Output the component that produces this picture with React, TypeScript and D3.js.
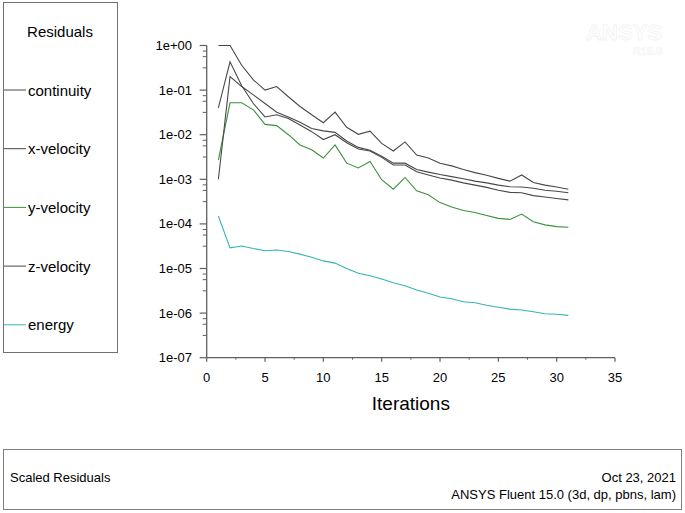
import React from "react";
import * as d3 from "d3";

const iterations = d3.range(1, 32);
const continuity = [1.0, 1.0, 0.36, 0.17, 0.1, 0.12, 0.071, 0.043, 0.028, 0.0186, 0.032, 0.0147, 0.0102, 0.012, 0.0064, 0.0043, 0.0069, 0.0035, 0.003, 0.0023, 0.002, 0.00166, 0.00141, 0.00123, 0.00105, 0.00091, 0.00125, 0.00085, 0.00074, 0.00067, 0.0006];
const xVelocity = [0.04, 0.43, 0.125, 0.05, 0.025, 0.028, 0.023, 0.0165, 0.0117, 0.0078, 0.01, 0.0066, 0.0048, 0.0043, 0.0031, 0.0021, 0.0021, 0.00148, 0.00125, 0.00107, 0.00096, 0.00083, 0.00074, 0.00066, 0.00057, 0.00051, 0.0005, 0.00043, 0.0004, 0.00037, 0.000345];
const yVelocity = [0.0027, 0.052, 0.052, 0.036, 0.017, 0.016, 0.01, 0.0059, 0.0046, 0.003, 0.0059, 0.0023, 0.0018, 0.0025, 0.00098, 0.0006, 0.0011, 0.00055, 0.00045, 0.0003, 0.00024, 0.0002, 0.00018, 0.000155, 0.000133, 0.000126, 0.000166, 0.000112, 0.000095, 0.000087, 0.000084];
const zVelocity = [0.001, 0.2, 0.12, 0.078, 0.05, 0.032, 0.025, 0.019, 0.0138, 0.0122, 0.0113, 0.0072, 0.0052, 0.0045, 0.0033, 0.0023, 0.0023, 0.00166, 0.00145, 0.00128, 0.00115, 0.00103, 0.00091, 0.00083, 0.00074, 0.00068, 0.00067, 0.00063, 0.00057, 0.00054, 0.0005];
const energy = [1.5e-4, 2.9e-5, 3.2e-5, 2.8e-5, 2.5e-5, 2.6e-5, 2.4e-5, 2.1e-5, 1.78e-5, 1.48e-5, 1.32e-5, 1.0e-5, 7.8e-6, 6.9e-6, 5.8e-6, 4.8e-6, 4.1e-6, 3.3e-6, 2.8e-6, 2.3e-6, 2.1e-6, 1.8e-6, 1.7e-6, 1.5e-6, 1.35e-6, 1.23e-6, 1.17e-6, 1.07e-6, 9.7e-7, 9.4e-7, 8.9e-7];

const seriesNames = ["continuity", "x-velocity", "y-velocity", "z-velocity", "energy"];
const seriesData = [continuity, xVelocity, yVelocity, zVelocity, energy];
const seriesColors = ["#484848", "#484848", "#3a913a", "#484848", "#36b4b4"];

const xTicks = [0, 5, 10, 15, 20, 25, 30, 35];
const yTickLabels = ["1e-07", "1e-06", "1e-05", "1e-04", "1e-03", "1e-02", "1e-01", "1e+00"];
const yTickExps = [-7, -6, -5, -4, -3, -2, -1, 0];

const FONT = "'Liberation Sans', Arial, sans-serif";

export default function App() {
  const x = d3.scaleLinear().domain([0, 35]).range([206.7, 615]);
  const y = d3.scaleLog().domain([1e-7, 1]).range([357.7, 45.5]);
  const line = (vals: number[]) =>
    d3.line<number>().x((_, i) => x(iterations[i])).y((v) => y(v))(vals) || "";

  const minorY: number[] = [];
  yTickExps.slice(1).forEach((e) => {
    const dec = y(Math.pow(10, e - 1)) - y(Math.pow(10, e));
    [0.125, 0.25, 0.5].forEach((f) => minorY.push(y(Math.pow(10, e)) + dec * f));
  });
  const minorX = d3.range(2.5, 35, 5);
  const axisColor = "#606060";

  return (
    <svg width={685} height={513} style={{ position: "absolute", left: 0, top: 0, background: "#fff" }} fontFamily={FONT}>
      <rect x={0} y={0} width={685} height={513} fill="#fff" />
      {/* legend box */}
      <rect x={3.5} y={2.5} width={114} height={350} fill="none" stroke="#707070" strokeWidth={1} />
      <text x={60} y={37} textAnchor="middle" fontSize={15} fill="#000">Residuals</text>
      {seriesNames.map((n, i) => {
        const cy = 90 + i * 58.7;
        return (
          <g key={n}>
            <line x1={4} x2={26} y1={cy} y2={cy} stroke={seriesColors[i]} strokeWidth={1} />
            <text x={28} y={cy + 5.5} fontSize={15} fill="#000">{n}</text>
          </g>
        );
      })}
      {/* axes */}
      <line x1={x(0)} x2={x(0)} y1={y(1)} y2={y(1e-7)} stroke={axisColor} strokeWidth={1.3} />
      <line x1={x(0)} x2={x(35)} y1={y(1e-7)} y2={y(1e-7)} stroke={axisColor} strokeWidth={1.3} />
      {yTickExps.map((e, i) => (
        <g key={e}>
          <line x1={x(0) - 7} x2={x(0)} y1={y(Math.pow(10, e))} y2={y(Math.pow(10, e))} stroke={axisColor} strokeWidth={1.2} />
          <text x={192} y={y(Math.pow(10, e)) + 4.5} textAnchor="end" fontSize={13} fill="#000">{yTickLabels[i]}</text>
        </g>
      ))}
      {minorY.map((v, i) => (
        <line key={i} x1={x(0) - 4} x2={x(0)} y1={v} y2={v} stroke={axisColor} strokeWidth={1} />
      ))}
      {xTicks.map((t) => (
        <g key={t}>
          <line x1={x(t)} x2={x(t)} y1={y(1e-7)} y2={y(1e-7) + 4} stroke={axisColor} strokeWidth={1.2} />
          <text x={x(t)} y={382} textAnchor="middle" fontSize={13} fill="#000">{t}</text>
        </g>
      ))}
      {minorX.map((t) => (
        <line key={t} x1={x(t)} x2={x(t)} y1={y(1e-7)} y2={y(1e-7) + 2} stroke={axisColor} strokeWidth={1} />
      ))}
      <text x={x(17.5)} y={409.5} textAnchor="middle" fontSize={19} fill="#000">Iterations</text>
      {/* series */}
      {seriesData.map((d, i) => (
        <path key={seriesNames[i]} d={line(d)} fill="none" stroke={seriesColors[i]} strokeWidth={1.1} />
      ))}
      {/* watermark */}
      <text x={662} y={40} textAnchor="end" fontSize={22} fontWeight="bold" fill="#fff" stroke="#f3f3f3" strokeWidth={0.8}>ANSYS</text>
      <text x={662} y={55} textAnchor="end" fontSize={11} fontWeight="bold" fill="#fff" stroke="#f3f3f3" strokeWidth={0.6}>R15.0</text>
      {/* footer */}
      <rect x={3.5} y={449.5} width={678} height={60} fill="none" stroke="#808080" strokeWidth={1} />
      <text x={10} y={482} fontSize={13} fill="#000">Scaled Residuals</text>
      <text x={676} y={482} textAnchor="end" fontSize={13} fill="#000">Oct 23, 2021</text>
      <text x={676} y={499} textAnchor="end" fontSize={13} fill="#000">ANSYS Fluent 15.0 (3d, dp, pbns, lam)</text>
    </svg>
  );
}
